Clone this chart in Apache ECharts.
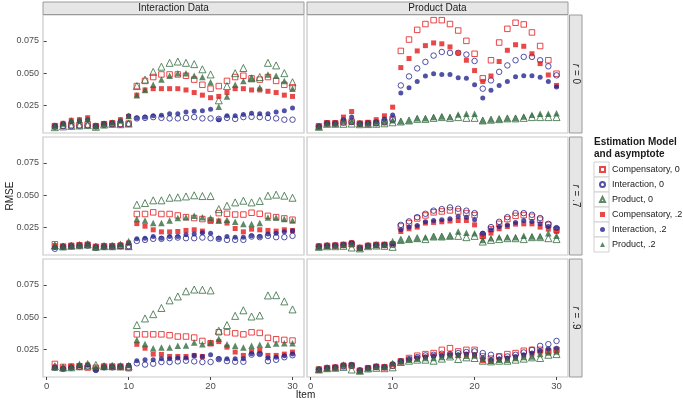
<!DOCTYPE html>
<html>
<head>
<meta charset="utf-8">
<title>RMSE by item</title>
<script src="https://cdn.jsdelivr.net/npm/echarts@6/dist/echarts.min.js"></script>
<style>
html, body { margin: 0; padding: 0; background: #fff; }
#chart { width: 683px; height: 402px; }
</style>
</head>
<body>
<div id="chart"></div>
<script>
var items = [1,2,3,4,5,6,7,8,9,10,11,12,13,14,15,16,17,18,19,20,21,22,23,24,25,26,27,28,29,30];
var xTicks = [0, 10, 20, 30];
var yTicks = [0.025, 0.050, 0.075];
var dataSets = ['Interaction Data', 'Product Data'];
var rLabels = ['0', '.7', '.9'];
var modelNames = ['Compensatory, 0', 'Interaction, 0', 'Product, 0', 'Compensatory, .2', 'Interaction, .2', 'Product, .2'];

// Interaction Data, r = 0
var intR0Comp0 = [0.0090,0.0095,0.0098,0.0098,0.0102,0.0090,0.0105,0.0110,0.0108,0.0110, 0.040,0.044,0.047,0.049,0.049,0.049,0.048,0.045,0.041,0.038, 0.040,0.044,0.047,0.048,0.046,0.045,0.047,0.044,0.041,0.039];
var intR0Int0  = [0.0085,0.0090,0.0090,0.0092,0.0095,0.0088,0.0100,0.0105,0.0102,0.0108, 0.0150,0.0154,0.0160,0.0154,0.0150,0.0150,0.0154,0.0160,0.0150,0.0150, 0.0146,0.0154,0.0146,0.0160,0.0162,0.0160,0.0154,0.0150,0.0140,0.0140];
var intR0Prod0 = [0.0082,0.0088,0.0092,0.0095,0.0098,0.0085,0.0102,0.0108,0.0105,0.0110, 0.040,0.045,0.051,0.055,0.058,0.059,0.058,0.057,0.053,0.049, 0.029,0.040,0.050,0.054,0.046,0.047,0.058,0.056,0.050,0.043];
var intR0Comp2 = [0.0095,0.0112,0.0135,0.0140,0.0155,0.0095,0.0110,0.0118,0.0140,0.0165, 0.033,0.037,0.038,0.038,0.038,0.038,0.037,0.035,0.033,0.031, 0.032,0.035,0.038,0.038,0.037,0.037,0.036,0.035,0.033,0.032];
var intR0Int2  = [0.0092,0.0108,0.0125,0.0130,0.0140,0.0092,0.0108,0.0115,0.0130,0.0170, 0.0154,0.0160,0.0170,0.0175,0.0185,0.0185,0.0200,0.0205,0.0210,0.0220, 0.0140,0.0170,0.0170,0.0180,0.0190,0.0185,0.0185,0.0200,0.0210,0.0230];
var intR0Prod2 = [0.0095,0.0110,0.0135,0.0138,0.0145,0.0095,0.0110,0.0118,0.0138,0.0168, 0.033,0.037,0.041,0.045,0.048,0.050,0.050,0.048,0.047,0.043, 0.024,0.032,0.041,0.044,0.046,0.039,0.049,0.048,0.044,0.038];

// Product Data, r = 0
var prodR0Comp0 = [0.0088,0.0112,0.0112,0.0120,0.0125,0.0110,0.0112,0.0115,0.0122,0.0146, 0.0672,0.0760,0.0835,0.0880,0.0910,0.0910,0.0880,0.0830,0.0750,0.0650, 0.0460,0.0600,0.0737,0.0843,0.0890,0.0877,0.0815,0.0710,0.0600,0.0496];
var prodR0Int0  = [0.0087,0.0110,0.0110,0.0118,0.0122,0.0108,0.0110,0.0112,0.0120,0.0140, 0.0405,0.0475,0.0537,0.0587,0.0636,0.0664,0.0657,0.0657,0.0644,0.0594, 0.0380,0.0444,0.0510,0.0560,0.0600,0.0626,0.0626,0.0600,0.0553,0.0483];
var prodR0Prod0 = [0.0085,0.0108,0.0108,0.0108,0.0110,0.0105,0.0106,0.0108,0.0112,0.0120, 0.0126,0.0134,0.0146,0.0146,0.0154,0.0160,0.0154,0.0160,0.0154,0.0154, 0.0134,0.0140,0.0144,0.0150,0.0150,0.0154,0.0160,0.0160,0.0160,0.0160];
var prodR0Comp2 = [0.0090,0.0115,0.0115,0.0160,0.0203,0.0110,0.0120,0.0140,0.0170,0.0237, 0.0543,0.0613,0.0672,0.0713,0.0734,0.0727,0.0703,0.0657,0.0600,0.0520, 0.0436,0.0478,0.0590,0.0677,0.0720,0.0708,0.0650,0.0574,0.0486,0.0405];
var prodR0Int2  = [0.0088,0.0112,0.0112,0.0140,0.0160,0.0110,0.0115,0.0125,0.0145,0.0177, 0.0346,0.0387,0.0436,0.0478,0.0496,0.0490,0.0490,0.0465,0.0460,0.0410, 0.0307,0.0367,0.0405,0.0436,0.0473,0.0480,0.0480,0.0468,0.0436,0.0392];
var prodR0Prod2 = [0.0088,0.0112,0.0112,0.0130,0.0130,0.0110,0.0112,0.0118,0.0130,0.0135, 0.0128,0.0134,0.0152,0.0152,0.0160,0.0165,0.0160,0.0180,0.0185,0.0185, 0.0134,0.0142,0.0146,0.0152,0.0154,0.0165,0.0178,0.0185,0.0185,0.0190];

// Interaction Data, r = .7
var intR7Comp0 = [0.0120,0.0103,0.0108,0.0112,0.0115,0.0100,0.0105,0.0105,0.0108,0.0103, 0.0354,0.0354,0.0367,0.0354,0.0354,0.0343,0.0330,0.0323,0.0315,0.0304, 0.0361,0.0356,0.0350,0.0350,0.0364,0.0356,0.0340,0.0330,0.0320,0.0310];
var intR7Int0  = [0.0085,0.0100,0.0105,0.0108,0.0110,0.0092,0.0100,0.0100,0.0105,0.0105, 0.0146,0.0154,0.0162,0.0162,0.0167,0.0172,0.0167,0.0167,0.0172,0.0167, 0.0162,0.0154,0.0154,0.0154,0.0180,0.0175,0.0185,0.0175,0.0175,0.0185];
var intR7Prod0 = [0.0110,0.0103,0.0108,0.0112,0.0118,0.0100,0.0105,0.0105,0.0110,0.0105, 0.0426,0.0439,0.0460,0.0460,0.0480,0.0483,0.0490,0.0499,0.0493,0.0493, 0.0392,0.0418,0.0444,0.0457,0.0444,0.0455,0.0496,0.0504,0.0496,0.0480];
var intR7Comp2 = [0.0110,0.0103,0.0110,0.0115,0.0120,0.0103,0.0108,0.0108,0.0115,0.0130, 0.0280,0.0260,0.0232,0.0216,0.0216,0.0219,0.0227,0.0232,0.0222,0.0300, 0.0300,0.0284,0.0242,0.0216,0.0237,0.0232,0.0227,0.0222,0.0232,0.0227];
var intR7Int2  = [0.0095,0.0103,0.0108,0.0112,0.0118,0.0100,0.0105,0.0105,0.0112,0.0130, 0.0162,0.0167,0.0180,0.0167,0.0180,0.0180,0.0193,0.0200,0.0210,0.0206, 0.0167,0.0180,0.0175,0.0175,0.0185,0.0180,0.0200,0.0206,0.0216,0.0224];
var intR7Prod2 = [0.0108,0.0105,0.0112,0.0120,0.0128,0.0105,0.0110,0.0112,0.0125,0.0146, 0.0315,0.0304,0.0284,0.0284,0.0304,0.0323,0.0330,0.0340,0.0330,0.0323, 0.0304,0.0310,0.0294,0.0276,0.0276,0.0284,0.0328,0.0328,0.0315,0.0304];

// Product Data, r = .7
var prodR7Comp0 = [0.0103,0.0108,0.0110,0.0115,0.0120,0.0092,0.0108,0.0115,0.0115,0.0118, 0.0258,0.0284,0.0320,0.0343,0.0367,0.0374,0.0382,0.0374,0.0361,0.0346, 0.0185,0.0237,0.0278,0.0315,0.0340,0.0346,0.0333,0.0310,0.0270,0.0232];
var prodR7Int0  = [0.0103,0.0108,0.0110,0.0115,0.0125,0.0092,0.0108,0.0115,0.0115,0.0120, 0.0270,0.0297,0.0330,0.0356,0.0380,0.0392,0.0405,0.0395,0.0380,0.0361, 0.0200,0.0253,0.0294,0.0330,0.0361,0.0361,0.0348,0.0323,0.0278,0.0245];
var prodR7Prod0 = [0.0100,0.0105,0.0105,0.0108,0.0095,0.0088,0.0105,0.0110,0.0108,0.0100, 0.0154,0.0160,0.0167,0.0160,0.0180,0.0180,0.0185,0.0185,0.0175,0.0185, 0.0141,0.0154,0.0160,0.0167,0.0167,0.0160,0.0175,0.0175,0.0167,0.0160];
var prodR7Comp2 = [0.0103,0.0108,0.0112,0.0118,0.0134,0.0090,0.0108,0.0115,0.0118,0.0125, 0.0219,0.0240,0.0253,0.0284,0.0289,0.0294,0.0300,0.0304,0.0304,0.0270, 0.0180,0.0206,0.0240,0.0258,0.0276,0.0278,0.0278,0.0253,0.0237,0.0219];
var prodR7Int2  = [0.0103,0.0108,0.0112,0.0118,0.0130,0.0090,0.0108,0.0115,0.0118,0.0125, 0.0232,0.0253,0.0266,0.0294,0.0304,0.0310,0.0317,0.0335,0.0330,0.0310, 0.0206,0.0232,0.0258,0.0270,0.0289,0.0304,0.0297,0.0278,0.0258,0.0245];
var prodR7Prod2 = [0.0103,0.0108,0.0112,0.0118,0.0125,0.0092,0.0108,0.0115,0.0118,0.0146, 0.0154,0.0160,0.0167,0.0175,0.0180,0.0180,0.0185,0.0219,0.0210,0.0206, 0.0154,0.0167,0.0175,0.0175,0.0175,0.0185,0.0180,0.0180,0.0206,0.0185];

// Interaction Data, r = .9
var intR9Comp0 = [0.0138,0.0115,0.0118,0.0120,0.0110,0.0108,0.0118,0.0118,0.0118,0.0105, 0.0367,0.0367,0.0367,0.0367,0.0360,0.0350,0.0350,0.0342,0.0316,0.0298, 0.0383,0.0383,0.0375,0.0367,0.0383,0.0378,0.0340,0.0329,0.0324,0.0319];
var intR9Int0  = [0.0110,0.0100,0.0108,0.0115,0.0118,0.0092,0.0112,0.0112,0.0115,0.0110, 0.0143,0.0133,0.0140,0.0153,0.0153,0.0158,0.0163,0.0158,0.0153,0.0153, 0.0175,0.0160,0.0155,0.0155,0.0210,0.0215,0.0160,0.0170,0.0190,0.0205];
var intR9Prod0 = [0.0120,0.0110,0.0112,0.0120,0.0125,0.0130,0.0120,0.0120,0.0118,0.0118, 0.0439,0.0490,0.0523,0.0571,0.0630,0.0660,0.0700,0.0714,0.0712,0.0707, 0.0395,0.0439,0.0510,0.0553,0.0505,0.0513,0.0668,0.0670,0.0622,0.0560];
var intR9Comp2 = [0.0115,0.0108,0.0118,0.0125,0.0130,0.0100,0.0118,0.0118,0.0118,0.0125, 0.0290,0.0260,0.0214,0.0212,0.0196,0.0196,0.0196,0.0204,0.0196,0.0298, 0.0311,0.0268,0.0230,0.0204,0.0235,0.0242,0.0204,0.0204,0.0214,0.0230];
var intR9Int2  = [0.0110,0.0102,0.0112,0.0125,0.0130,0.0090,0.0115,0.0118,0.0120,0.0128, 0.0163,0.0171,0.0171,0.0178,0.0178,0.0184,0.0184,0.0204,0.0196,0.0209, 0.0178,0.0178,0.0178,0.0178,0.0217,0.0217,0.0184,0.0190,0.0202,0.0214];
var intR9Prod2 = [0.0110,0.0110,0.0118,0.0140,0.0145,0.0115,0.0125,0.0128,0.0128,0.0130, 0.0324,0.0293,0.0260,0.0265,0.0265,0.0278,0.0280,0.0304,0.0290,0.0304, 0.0332,0.0290,0.0278,0.0265,0.0278,0.0286,0.0286,0.0296,0.0298,0.0298];

// Product Data, r = .9
var prodR9Comp0 = [0.0095,0.0105,0.0110,0.0120,0.0125,0.0085,0.0105,0.0115,0.0112,0.0125, 0.0158,0.0184,0.0202,0.0214,0.0222,0.0247,0.0260,0.0235,0.0247,0.0247, 0.0196,0.0179,0.0196,0.0214,0.0222,0.0240,0.0247,0.0247,0.0235,0.0247];
var prodR9Int0  = [0.0095,0.0105,0.0110,0.0122,0.0125,0.0088,0.0105,0.0115,0.0112,0.0125, 0.0158,0.0176,0.0191,0.0204,0.0209,0.0217,0.0214,0.0222,0.0230,0.0235, 0.0222,0.0209,0.0196,0.0196,0.0209,0.0227,0.0247,0.0278,0.0291,0.0316];
var prodR9Prod0 = [0.0095,0.0105,0.0108,0.0115,0.0095,0.0085,0.0103,0.0108,0.0105,0.0112, 0.0153,0.0163,0.0171,0.0171,0.0163,0.0179,0.0196,0.0176,0.0189,0.0184, 0.0163,0.0158,0.0163,0.0163,0.0171,0.0179,0.0189,0.0184,0.0209,0.0214];
var prodR9Comp2 = [0.0092,0.0107,0.0112,0.0130,0.0130,0.0085,0.0107,0.0120,0.0115,0.0135, 0.0158,0.0171,0.0184,0.0191,0.0202,0.0204,0.0209,0.0202,0.0209,0.0202, 0.0163,0.0158,0.0171,0.0179,0.0184,0.0202,0.0214,0.0230,0.0235,0.0240];
var prodR9Int2  = [0.0095,0.0107,0.0112,0.0130,0.0133,0.0087,0.0107,0.0120,0.0115,0.0140, 0.0158,0.0171,0.0184,0.0191,0.0196,0.0202,0.0209,0.0209,0.0214,0.0209, 0.0184,0.0171,0.0179,0.0184,0.0196,0.0209,0.0222,0.0240,0.0255,0.0260];
var prodR9Prod2 = [0.0095,0.0107,0.0112,0.0133,0.0133,0.0090,0.0107,0.0120,0.0118,0.0145, 0.0158,0.0171,0.0179,0.0184,0.0184,0.0191,0.0204,0.0209,0.0202,0.0204, 0.0179,0.0163,0.0171,0.0171,0.0184,0.0191,0.0196,0.0214,0.0227,0.0235];

// panels in row order: left = Interaction Data, right = Product Data
var panels = [
    [intR0Comp0, intR0Int0, intR0Prod0, intR0Comp2, intR0Int2, intR0Prod2],
    [prodR0Comp0, prodR0Int0, prodR0Prod0, prodR0Comp2, prodR0Int2, prodR0Prod2],
    [intR7Comp0, intR7Int0, intR7Prod0, intR7Comp2, intR7Int2, intR7Prod2],
    [prodR7Comp0, prodR7Int0, prodR7Prod0, prodR7Comp2, prodR7Int2, prodR7Prod2],
    [intR9Comp0, intR9Int0, intR9Prod0, intR9Comp2, intR9Int2, intR9Prod2],
    [prodR9Comp0, prodR9Int0, prodR9Prod0, prodR9Comp2, prodR9Int2, prodR9Prod2]
];

var RED = '#e41a1c', BLUE = '#25258f', GREEN = '#336b40';
var marks = [
    { symbol: 'rect',     size: 5.5, color: RED,   hollow: true },
    { symbol: 'circle',   size: 5.5, color: BLUE,  hollow: true },
    { symbol: 'triangle', size: 7,   color: GREEN, hollow: true },
    { symbol: 'rect',     size: 5,   color: RED,   hollow: false },
    { symbol: 'circle',   size: 5,   color: BLUE,  hollow: false },
    { symbol: 'triangle', size: 6.5, color: GREEN, hollow: false }
];

// layout
var colLeft = [43, 307], panelW = 261;
var rowTop = [15, 137, 259], panelH = 118;
var FONT = '"Liberation Sans", Arial, sans-serif';

var grids = [], xAxes = [], yAxes = [], series = [], graphics = [];

panels.forEach(function (panel, gi) {
    var row = Math.floor(gi / 2), col = gi % 2;
    grids.push({
        left: colLeft[col], top: rowTop[row], width: panelW, height: panelH,
        show: true, backgroundColor: '#fff', borderColor: '#c8c8c8', borderWidth: 1.2
    });
    xAxes.push({
        gridIndex: gi, type: 'value', min: -0.45, max: 31.4,
        splitLine: { show: false }, axisLine: { show: false },
        axisTick: { show: row === 2, customValues: xTicks, length: 3, lineStyle: { color: '#444' } },
        axisLabel: { show: row === 2, customValues: xTicks, fontSize: 9.5, color: '#4d4d4d', margin: 4 }
    });
    var ya = {
        gridIndex: gi, type: 'value', min: 0.0037, max: 0.095,
        splitLine: { show: false }, axisLine: { show: false },
        axisTick: { show: col === 0, customValues: yTicks, length: 3, lineStyle: { color: '#444' } },
        axisLabel: {
            show: col === 0, customValues: yTicks, fontSize: 9, color: '#4d4d4d', margin: 4,
            formatter: function (v) { return v.toFixed(3); }
        }
    };
    if (gi === 2) {
        ya.name = 'RMSE';
        ya.nameLocation = 'middle';
        ya.nameGap = 28;
        ya.nameMoveOverlap = false;
        ya.nameTextStyle = { fontSize: 10, color: '#1a1a1a' };
    }
    yAxes.push(ya);

    panel.forEach(function (vals, si) {
        var m = marks[si];
        series.push({
            type: 'scatter', name: modelNames[si],
            xAxisIndex: gi, yAxisIndex: gi,
            data: items.map(function (it, k) { return [it, vals[k]]; }),
            symbol: m.symbol, symbolSize: m.size,
            itemStyle: m.hollow
                ? { color: 'rgba(255,255,255,0)', borderColor: m.color, borderWidth: 1 }
                : { color: m.color },
            emphasis: { disabled: true },
            silent: true
        });
    });
});

// top strips
dataSets.forEach(function (name, c) {
    graphics.push({
        type: 'rect', shape: { x: colLeft[c], y: 2, width: panelW, height: 12.5 },
        style: { fill: '#e6e6e6', stroke: '#9a9a9a', lineWidth: 1 }
    });
    graphics.push({
        type: 'text', x: colLeft[c] + panelW / 2, y: 8.5,
        style: { text: name, fill: '#1a1a1a', font: '10px ' + FONT, align: 'center', verticalAlign: 'middle' }
    });
});

// right strips
rLabels.forEach(function (lab, r) {
    graphics.push({
        type: 'rect', shape: { x: colLeft[1] + panelW + 1.5, y: rowTop[r], width: 12.5, height: panelH },
        style: { fill: '#e6e6e6', stroke: '#9a9a9a', lineWidth: 1 }
    });
    graphics.push({
        type: 'text', x: colLeft[1] + panelW + 8, y: rowTop[r] + panelH / 2, rotation: -Math.PI / 2,
        style: {
            text: '{i|r} = ' + lab, fill: '#1a1a1a', font: '10px ' + FONT,
            align: 'center', verticalAlign: 'middle',
            rich: { i: { fontStyle: 'italic', fontSize: 10, fontFamily: FONT, fill: '#1a1a1a' } }
        }
    });
});

// x axis title
graphics.push({
    type: 'text', x: (colLeft[0] + colLeft[1] + panelW) / 2, y: 395,
    style: { text: 'Item', fill: '#1a1a1a', font: '10px ' + FONT, align: 'center', verticalAlign: 'middle' }
});

// legend title and key boxes
var legLeft = 594, legTop = 162, keySize = 15, iconSize = 5;
graphics.push({
    type: 'text', x: legLeft, y: 136,
    style: { text: 'Estimation Model\nand asymptote', fill: '#1a1a1a', font: 'bold 10px ' + FONT, lineHeight: 12, align: 'left', verticalAlign: 'top' }
});
modelNames.forEach(function (n, k) {
    graphics.push({
        type: 'rect', z: 0, shape: { x: legLeft, y: legTop + k * keySize, width: keySize, height: keySize },
        style: { fill: '#fff', stroke: '#d0d0d0', lineWidth: 1 }
    });
});

var chart = echarts.init(document.getElementById('chart'));
chart.setOption({
    animation: false,
    textStyle: { fontFamily: FONT },
    grid: grids,
    xAxis: xAxes,
    yAxis: yAxes,
    legend: {
        data: modelNames, orient: 'vertical',
        left: legLeft + (keySize - iconSize) / 2, top: legTop, width: 100, padding: 0,
        itemWidth: iconSize, itemHeight: iconSize, itemGap: 0, z: 10, selectedMode: false,
        textStyle: { fontSize: 9, lineHeight: keySize, color: '#1a1a1a', overflow: 'none', padding: [0, 0, 0, 2] }
    },
    graphic: graphics,
    series: series
});
</script>
</body>
</html>
